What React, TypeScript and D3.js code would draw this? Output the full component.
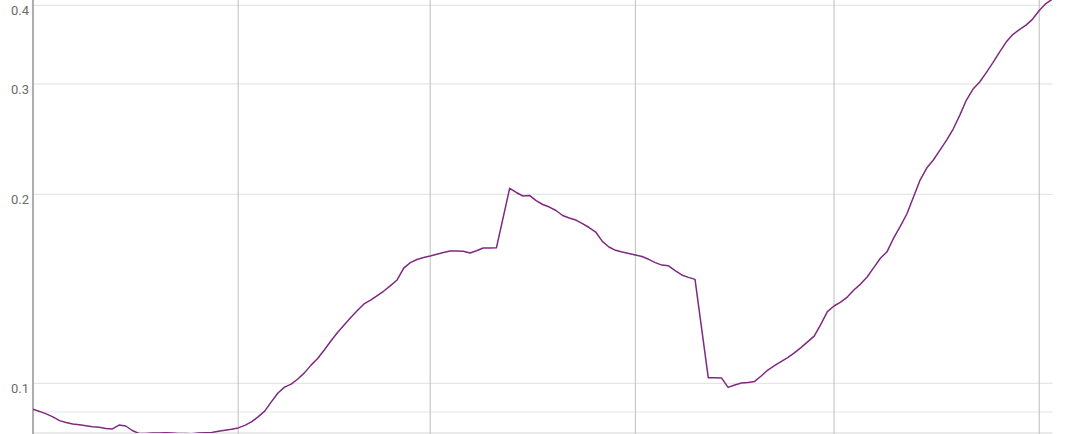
import React from "react";
import * as d3 from "d3";

// Daily series starting 2020-01-01 (null = no observation that day)
const startDate = "2020-01-01";
const endDate = "2020-06-03";
const values: (number | null)[] = [
  0.0909, 0.0902, 0.0894, 0.0884, 0.0872, 0.0866, 0.0861, 0.0859, 0.0856, 0.0853,
  0.0851, 0.0847, 0.0846, 0.0858, 0.0855, 0.0841, 0.0832, 0.0832, 0.0833, 0.0833,
  0.0834, 0.0833, 0.0832, 0.0832, 0.0831, 0.0833, 0.0834, 0.0835, 0.0839, 0.0842,
  0.0845, 0.0849, 0.0857, 0.0868, 0.0884, 0.0903, 0.0934, 0.0965, 0.0986, 0.0997,
  0.1016, 0.1039, 0.1069, 0.1095, 0.113, 0.1168, 0.1205, 0.1239, 0.1273, 0.1306,
  0.1338, 0.1357, 0.138, 0.1403, 0.1431, 0.1461, 0.1526, 0.1557, 0.1575, 0.1586,
  0.1595, 0.1606, 0.1616, 0.1625, 0.1625, 0.1623, 0.1613, 0.1626, 0.1643, 0.1643,
  0.1644, null, 0.2045, 0.2014, 0.1988, 0.1992, 0.1955, 0.1927, 0.1909, 0.1885,
  0.1851, 0.1834, 0.182, 0.1796, 0.1771, 0.1742, 0.1683, 0.1649, 0.1629, 0.1619,
  0.161, 0.1601, 0.1592, 0.1576, 0.1557, 0.1543, 0.1539, 0.1512, 0.1488, 0.1475,
  0.1464, null, 0.1021, 0.1021, 0.102, 0.0985, 0.0994, 0.1001, 0.1003, 0.1007,
  0.1027, 0.105, 0.1067, 0.1083, 0.1099, 0.1118, 0.114, 0.1164, 0.1189, 0.1241,
  0.1301, 0.1328, 0.1347, 0.1372, 0.1408, 0.1439, 0.1477, 0.1529, 0.1582, 0.162,
  0.1704, 0.1778, 0.1861, 0.1981, 0.2108, 0.2203, 0.2269, 0.2353, 0.2441, 0.2542,
  0.2675, 0.2827, 0.2943, 0.302, 0.3127, 0.3243, 0.3371, 0.3497, 0.3595, 0.3661,
  0.3722, 0.3805, 0.3926, 0.4028, 0.4095,
];

const yTicks = [0.1, 0.2, 0.3, 0.4];
const yMinorTicks = [0.09];
const xGridDates = ["2020-02-01", "2020-03-01", "2020-04-01", "2020-05-01", "2020-06-01"];

const W = 1080;
const H = 434;
const left = 33;
const right = 1052.5;
const bottom = 433;

export default function App() {
  const start = new Date(startDate + "T00:00:00Z");
  const data = values
    .map((v, i) => ({ date: d3.utcDay.offset(start, i), v }))
    .filter((d) => d.v !== null) as { date: Date; v: number }[];

  const x = d3
    .scaleUtc()
    .domain([start, new Date(endDate + "T00:00:00Z")])
    .range([left, right]);
  const y = d3.scaleLog().domain([0.1, 0.4]).range([383.3, 5.45]);

  const line = d3
    .line<{ date: Date; v: number }>()
    .x((d) => x(d.date))
    .y((d) => y(d.v));

  return (
    <div style={{ position: "absolute", left: 0, top: 0 }}>
      <svg width={W} height={H} style={{ display: "block" }}>
        <defs>
          <clipPath id="plot">
            <rect x={left} y={0} width={right - left} height={bottom} />
          </clipPath>
        </defs>
        <rect x={0} y={0} width={W} height={H} fill="#fff" />
        {[...yMinorTicks, ...yTicks].map((t) => (
          <line
            key={"h" + t}
            x1={left}
            x2={right}
            y1={y(t)}
            y2={y(t)}
            stroke="#e6e6e6"
            strokeWidth={1.2}
          />
        ))}
        <line x1={left} x2={right} y1={bottom} y2={bottom} stroke="#d6d6d6" strokeWidth={1} />
        {xGridDates.map((d) => {
          const px = x(new Date(d + "T00:00:00Z"));
          return (
            <line key={d} x1={px} x2={px} y1={0} y2={H} stroke="#c8c8c8" strokeWidth={1.2} />
          );
        })}
        <line x1={left} x2={left} y1={0} y2={H} stroke="#9a9a9a" strokeWidth={1.6} />
        {yTicks.map((t) => (
          <text
            key={"l" + t}
            x={29}
            y={y(t) + 10}
            textAnchor="end"
            fontFamily="Roboto, sans-serif"
            fontSize={13}
            fill="#6b6b6b"
          >
            {t.toFixed(1)}
          </text>
        ))}
        <path
          d={line(data) || ""}
          fill="none"
          stroke="#7e2a80"
          strokeWidth={1.5}
          strokeLinejoin="round"
          clipPath="url(#plot)"
        />
      </svg>
    </div>
  );
}
